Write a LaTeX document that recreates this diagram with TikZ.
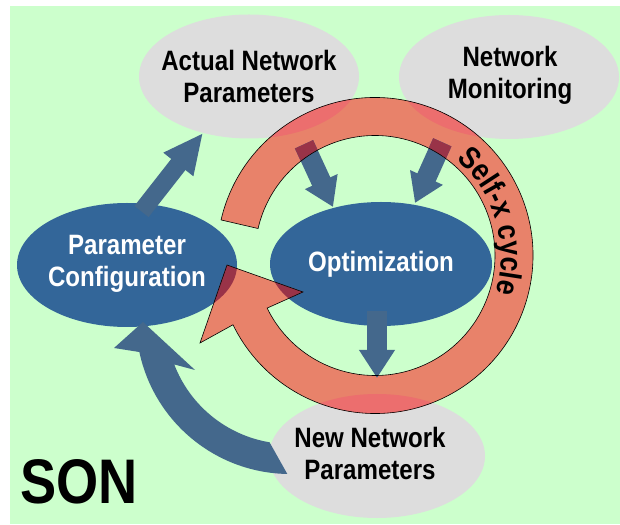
\documentclass[tikz,border=0pt]{standalone}
\usepackage{fontspec}
\setmainfont{Liberation Sans}[FakeStretch=0.86]
\usetikzlibrary{arrows.meta,calc,decorations.text}
\definecolor{bggreen}{HTML}{CCFFCC}
\definecolor{ellgray}{HTML}{DDDDDD}
\definecolor{ellblue}{HTML}{336699}
\definecolor{arrowblue}{HTML}{44688C}
\definecolor{ringsalmon}{HTML}{E8826A}
\definecolor{ringpink}{HTML}{EC6E6E}
\definecolor{darkred}{HTML}{993348}
\begin{document}
\begin{tikzpicture}[x=1pt,y=1pt,
  lbl/.style={font=\fontsize{28}{32}\selectfont\bfseries, align=center, inner sep=0pt, text=black},
  wlbl/.style={lbl, text=white},
  fatarrow/.style={draw=arrowblue, line width=20pt, -{Triangle[width=34pt,length=28pt]}},
  bigarrow/.style={fatarrow, line width=18pt, -{Triangle[width=35pt,length=40pt]}}]
\useasboundingbox (0,0) rectangle (620,524);
\fill[white] (0,0) rectangle (620,524);
\fill[bggreen] (10,0) rectangle (620,518);
% geometry
\coordinate (RC) at (375,268.5);
\coordinate (rwl) at (200,181);
\coordinate (rtip) at (227,259);
\coordinate (rwr) at (303,232);
\coordinate (C4) at (290,204);
\coordinate (cwl) at (114,176);
\coordinate (ctip) at (143,202);
\coordinate (cwr) at (195,154);
\coordinate (a1s) at (141.5,312.5);
\coordinate (a1e) at (203,391);
\coordinate (a2s) at (304,379.7);
\coordinate (a2e) at (333,317);
\coordinate (a3s) at (442.3,381.7);
\coordinate (a3e) at (415,321);
\coordinate (a4s) at (377,213);
\coordinate (a4e) at (377,146);
\def\ringpath{($(RC)+(167:158)$) arc[start angle=167,end angle=-154,radius=158] -- (rwl) -- (rtip) -- (rwr) -- ($(RC)+(-154:120)$) arc[start angle=-154,end angle=167,radius=120] -- cycle}
\def\anpE{(249,447.5) ellipse[x radius=110,y radius=62]}
\def\nmE{(509,447) ellipse[x radius=110,y radius=62]}
\def\nnpE{(377,68) ellipse[x radius=108,y radius=62]}
\def\pcE{(127,259) ellipse[x radius=110,y radius=62]}
\def\optE{(381,260) ellipse[x radius=111,y radius=62]}
% ellipses
\fill[ellgray] \anpE;
\fill[ellgray] \nmE;
\fill[ellgray] \nnpE;
\fill[ellblue] \pcE;
\fill[ellblue] \optE;
% ring
\fill[ringsalmon] \ringpath;
\begin{scope}\clip \anpE; \fill[ringpink] \ringpath; \end{scope}
\begin{scope}\clip \nmE; \fill[ringpink] \ringpath; \end{scope}
\begin{scope}\clip \nnpE; \fill[ringpink] \ringpath; \end{scope}
% blue arrows
\draw[bigarrow] (a1s) -- (a1e);
\draw[fatarrow] (a2s) -- (a2e);
\draw[fatarrow] (a3s) -- (a3e);
\draw[fatarrow] (a4s) -- (a4e);
\fill[arrowblue] ($(C4)+(269:154)$) arc[start angle=269,end angle=192,radius=154] -- (cwl) -- (ctip) -- (cwr) -- ($(C4)+(201:124)$) arc[start angle=201,end angle=260.5,radius=124] -- cycle;
% overlaps with ring
\begin{scope}
\clip \ringpath;
\fill[darkred] \pcE;
\fill[darkred] \optE;
\draw[fatarrow, draw=darkred] (a2s) -- (a2e);
\draw[fatarrow, draw=darkred] (a3s) -- (a3e);
\end{scope}
\draw[black, line width=0.6pt] \ringpath;
\path[decorate, decoration={text along path, text={|\fontsize{31}{31}\selectfont\bfseries|Self-x cycle}, text align=center}] ($(RC)+(76.25:126)$) arc[start angle=76.25,end angle=-43.75,radius=126];
% labels
\node[lbl] (anp) at (249,447.5) {Actual Network\\Parameters};
\node[lbl] (nm) at (510,449) {Network\\Monitoring};
\node[lbl] (nnp) at (370,71) {New Network\\Parameters};
\node[wlbl] (pc) at (127,260) {Parameter\\Configuration};
\node[wlbl] (opt) at (381,260) {Optimization};
\node[font=\fontsize{63}{63}\selectfont\bfseries, anchor=base west, inner sep=0pt] (son) at (20,21) {SON};
\end{tikzpicture}
\end{document}
